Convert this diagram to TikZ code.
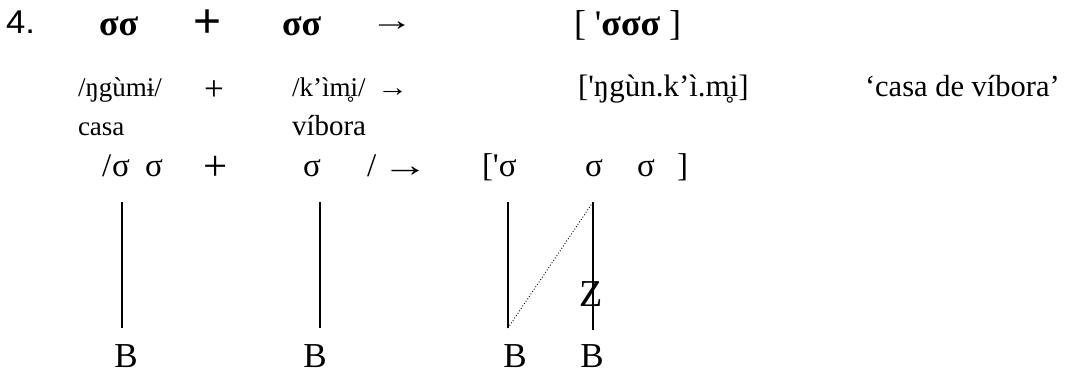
\documentclass[tikz,border=0pt]{standalone}
\usepackage{fontspec}
\usepackage{graphicx}
\setmainfont{Liberation Serif}[Ligatures=TeXOff]
\newfontfamily\arialfont{Liberation Sans}
\begin{document}
\begin{tikzpicture}[x=1pt,y=-1pt,
  every node/.style={inner sep=0pt, outer sep=0pt, anchor=base west},
  rowone/.style={font=\fontsize{33}{36}\selectfont\arialfont},
  sigbold/.style={font=\fontsize{36}{40}\selectfont\bfseries},
  rowtwo/.style={font=\fontsize{27}{32}\selectfont},
  rowthree/.style={font=\fontsize{33}{38}\selectfont},
  bnode/.style={font=\fontsize{35}{40}\selectfont, anchor=base},
  tier/.style={line width=1.1pt},
  assoc/.style={line width=0.9pt, dotted}]
\useasboundingbox (0,0) rectangle (1068,376);
% row 1
\node[rowone] (num) at (6,33) {\scalebox{1.05}[1]{4.}};
\node[sigbold] (r1a) at (99,35) {σσ};
\node[rowone, font=\fontsize{48}{50}\selectfont\arialfont] (r1p) at (193,37) {+};
\node[sigbold] (r1b) at (282,35) {σσ};
\node[rowone, font=\fontsize{30}{34}\selectfont\bfseries] (r1r) at (370,30) {\scalebox{1.45}[1]{→}};
\node[sigbold, font=\fontsize{36}{40}\selectfont] (r1o) at (574,35) {[ '\textbf{σσσ} ]};
% row 2
\node[rowtwo] (w1) at (78,96) {/ŋgùmɨ/};
\node[rowtwo] (p2) at (204,100) {\scalebox{1.3}{+}};
\node[rowtwo] (w2) at (292,96) {/k’ìm̥i/};
\node[rowtwo] (a2) at (377,96) {\scalebox{1.15}[1]{→}};
\node[rowtwo, font=\fontsize{31}{36}\selectfont] (w3) at (578,96) {['ŋgùn.k’ì.m̥i]};
\node[rowtwo, font=\fontsize{30.5}{36}\selectfont] (gl) at (865,96) {‘casa de víbora’};
\node[rowtwo] (g1) at (78,135) {casa};
\node[rowtwo, font=\fontsize{29}{34}\selectfont] (g2) at (292,135) {víbora};
% row 3
\node[rowthree] (sl1) at (102,176) {/};
\node[rowthree] (s1) at (112,176) {σ};
\node[rowthree] (s2) at (145,176) {σ};
\node[rowthree] (p3) at (203,180) {\scalebox{1.3}{+}};
\node[rowthree] (s3) at (303,176) {σ};
\node[rowthree] (sl2) at (367,176) {/};
\node[rowthree] (a3) at (382,176) {\scalebox{1.4}[1]{→}};
\node[rowthree] (br1) at (482,176) {['σ};
\node[rowthree] (s5) at (585,176) {σ};
\node[rowthree] (s6) at (637,176) {σ};
\node[rowthree] (br2) at (677,176) {]};
% B row
\node[bnode] (b1) at (126,367) {B};
\node[bnode] (b2) at (315,367) {B};
\node[bnode] (b3) at (515,367) {B};
\node[bnode] (b4) at (592,367) {B};
\node[bnode, font=\fontsize{38}{40}\selectfont] (z) at (591,306) {Z};
% association lines
\coordinate (t1) at (122,202); \coordinate (e1) at (122,328);
\coordinate (t2) at (320,202); \coordinate (e2) at (320,328);
\coordinate (t3) at (508,202); \coordinate (e3) at (508,328);
\coordinate (t4) at (593,202); \coordinate (e4) at (593,330);
\draw[tier] (t1) -- (e1);
\draw[tier] (t2) -- (e2);
\draw[tier] (t3) -- (e3);
\draw[tier] (t4) -- (e4);
\draw[assoc] (e3) -- (t4);
\end{tikzpicture}
\end{document}
